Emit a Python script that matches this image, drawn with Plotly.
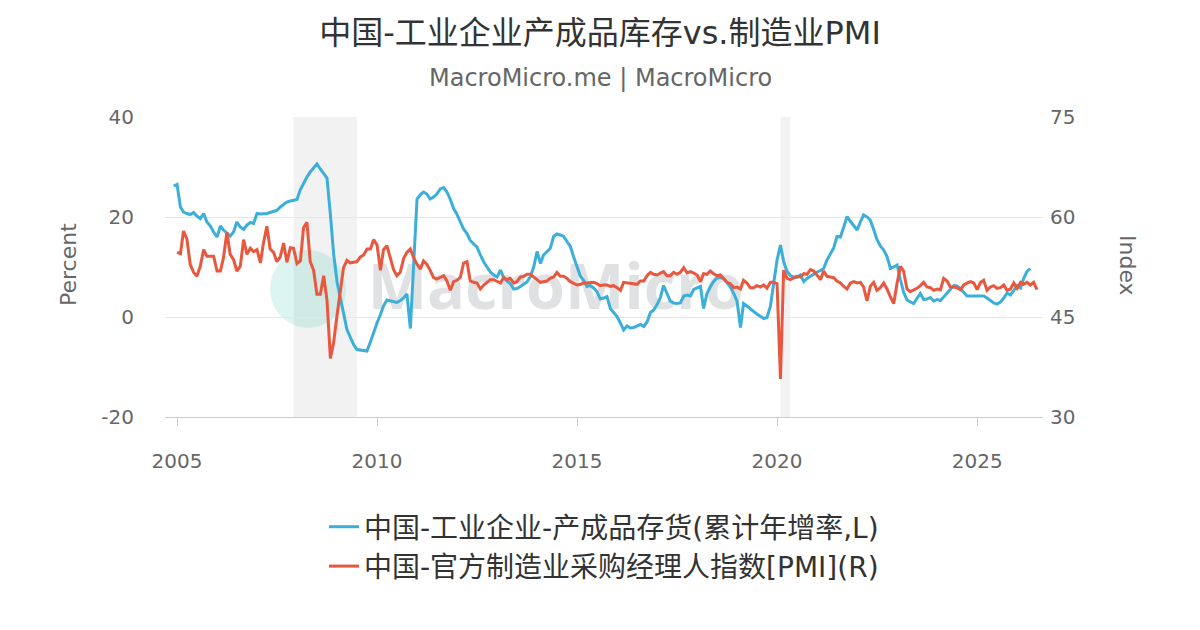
import pandas as pd
import plotly.graph_objects as go

# ---------------- data ----------------
inv_start = "2004-12-01"
inventory_yoy = [
    26.2,
    26.5, 22.0, 21.0, 20.7, 20.5, 20.9, 20.2, 19.7, 20.7, 19.0, 18.2, 17.0,   # 2005
    16.0, 18.2, 17.4, 16.8, 16.2, 17.0, 19.0, 18.0, 17.5, 18.4, 18.9, 18.7,   # 2006
    20.7, 20.6, 20.6, 20.7, 20.9, 21.1, 21.3, 22.0, 22.5, 23.0, 23.2, 23.3,   # 2007
    23.5, 25.5, 26.8, 28.0, 29.0, 29.8, 30.6, 29.6, 28.6, 27.8, 20.5, 12.5,   # 2008
    7.0, 3.5, 0.5, -2.5, -4.0, -5.5, -6.5, -6.6, -6.7, -6.8, -5.0, -3.0,      # 2009
    -1.2, 0.5, 2.2, 3.4, 3.2, 3.0, 2.9, 3.3, 3.8, 4.6, -2.3, None,            # 2010
    23.6, 24.5, 25.0, 24.6, 23.6, 24.0, 24.6, 25.6, 25.9, 25.0, 23.5, 21.7,   # 2011
    20.5, 19.0, 17.6, 16.7, 15.3, 14.6, 14.0, 12.4, 11.0, 10.0, 9.0, 8.4,     # 2012
    8.0, 9.4, 7.9, 7.2, 6.7, 5.6, 5.7, 6.1, 6.5, 7.0, 8.1, 10.0,              # 2013
    13.1, 10.7, 12.4, 13.1, 13.7, 16.1, 16.6, 16.4, 16.1, 15.1, 14.1, 12.0,   # 2014
    10.0, 8.1, 7.4, 6.1, 6.3, 5.8, 5.1, 3.6, 3.8, 4.1, 1.7, 0.9,              # 2015
    0.1, -1.2, -2.6, -1.8, -2.2, -2.1, -1.8, -1.5, -1.9, -1.0, 0.9, 1.4,      # 2016
    2.5, 4.0, 6.3, 4.6, 3.2, 2.8, 2.7, 2.8, 4.2, 4.4, 4.2, 5.5,               # 2017
    5.8, 6.1, 1.7, 4.7, 6.0, 7.1, 7.8, 7.9, 7.7, 6.8, 6.0, 4.7,               # 2018
    3.1, -2.1, 2.7, 2.2, 1.6, 1.1, 0.6, 0.1, -0.3, -0.1, 2.1, 6.7,            # 2019
    11.4, 14.4, 11.1, 9.1, 8.3, 8.0, 7.9, 8.4, 7.1, 7.7, 8.2, 8.6,            # 2020
    9.0, 9.3, 9.7, 11.4, 12.5, 13.8, 16.1, 16.0, 18.0, 20.1, 19.1, 18.2,      # 2021
    17.4, 19.1, 20.4, 20.0, 19.4, 17.5, 15.5, 14.2, 13.4, 12.1, 9.7, 10.0,    # 2022
    10.4, 7.4, 5.0, 3.4, 3.0, 2.7, 3.7, 4.7, 3.5, 3.6, 3.9, 3.2,              # 2023
    3.5, 3.3, 4.0, 4.8, 5.7, 6.3, 6.2, 5.7, 4.9, 4.2, 4.2, 4.2,               # 2024
    4.3, 4.3, 4.2, 3.8, 3.3, 2.8, 2.6, 3.0, 3.8, 4.8, 4.4, 5.3,               # 2025
    6.3, 5.8, 7.7, 9.1, 9.7,                                                  # 2026
]

pmi_start = "2005-01-01"
pmi = [
    54.7, 54.5, 57.9, 56.7, 52.9, 51.7, 51.1, 52.6, 55.1, 54.1, 54.1, 54.1,   # 2005
    51.9, 51.9, 53.9, 57.7, 54.4, 53.6, 51.9, 52.6, 56.6, 54.4, 55.3, 54.8,   # 2006
    55.1, 53.1, 56.1, 58.6, 55.2, 54.7, 53.3, 54.0, 56.1, 53.2, 55.4, 55.3,   # 2007
    53.0, 53.4, 58.4, 59.2, 53.3, 52.0, 48.4, 48.4, 51.2, 47.5, 38.8, 41.2,   # 2008
    45.3, 49.0, 52.4, 53.5, 53.1, 53.2, 53.3, 54.0, 54.3, 55.2, 55.2, 56.6,   # 2009
    55.8, 52.0, 55.1, 55.7, 53.9, 52.1, 51.2, 51.7, 53.8, 54.7, 55.2, 53.9,   # 2010
    52.9, 52.2, 53.4, 52.9, 52.0, 50.9, 50.7, 50.9, 51.2, 50.4, 49.0, 50.3,   # 2011
    50.5, 51.0, 53.1, 53.3, 50.4, 50.2, 50.1, 49.2, 49.8, 50.2, 50.6, 50.6,   # 2012
    50.4, 50.1, 50.9, 50.6, 50.8, 50.1, 50.3, 51.0, 51.1, 51.4, 51.4, 51.0,   # 2013
    50.5, 50.2, 50.3, 50.4, 50.8, 51.0, 51.7, 51.1, 51.1, 50.8, 50.3, 50.1,   # 2014
    49.8, 49.9, 50.1, 50.1, 50.2, 50.2, 50.0, 49.7, 49.8, 49.8, 49.6, 49.7,   # 2015
    49.4, 49.0, 50.2, 50.1, 50.1, 50.0, 49.9, 50.4, 50.4, 51.2, 51.7, 51.4,   # 2016
    51.3, 51.6, 51.8, 51.2, 51.2, 51.7, 51.4, 51.7, 52.4, 51.6, 51.8, 51.6,   # 2017
    51.3, 50.3, 51.5, 51.4, 51.9, 51.5, 51.2, 51.3, 50.8, 50.2, 50.0, 49.4,   # 2018
    49.5, 49.2, 50.5, 50.1, 49.4, 49.4, 49.7, 49.5, 49.8, 49.3, 50.2, 50.2,   # 2019
    50.0, 35.7, 52.0, 50.8, 50.6, 50.9, 51.1, 51.0, 51.5, 51.4, 52.1, 51.9,   # 2020
    51.3, 50.6, 51.9, 51.1, 51.0, 50.9, 50.4, 50.1, 49.6, 49.2, 50.1, 50.3,   # 2021
    50.1, 50.2, 49.5, 47.4, 49.6, 50.2, 49.0, 49.4, 50.1, 49.2, 48.0, 47.0,   # 2022
    50.1, 52.6, 51.9, 49.2, 48.8, 49.0, 49.3, 49.7, 50.2, 49.5, 49.4, 49.0,   # 2023
    49.2, 49.1, 50.8, 50.4, 49.5, 49.5, 49.4, 49.1, 49.8, 50.1, 50.3, 50.1,   # 2024
    49.1, 50.2, 50.5, 49.0, 49.5, 49.7, 49.3, 49.4, 49.8, 49.0, 49.2, 50.1,   # 2025
    49.3, 50.2, 49.9, 50.2, 49.8, 50.2, 49.1,                                 # 2026
]

recessions = [("2007-12-01", "2009-06-30"), ("2020-02-01", "2020-04-30")]

left_ticks = [-20, 0, 20, 40]
left_tick_text = ["-20", "0", "20", "40"]
right_ticks = [30, 45, 60, 75]

name_inv = "中国-工业企业-产成品存货(累计年增率,L)"
name_pmi = "中国-官方制造业采购经理人指数[PMI](R)"
title_text = "中国-工业企业产成品库存vs.制造业PMI"
subtitle_text = "MacroMicro.me | MacroMicro"

inv_dates = pd.date_range(inv_start, periods=len(inventory_yoy), freq="MS")
pmi_dates = pd.date_range(pmi_start, periods=len(pmi), freq="MS")

FONT = "DejaVu Sans, Noto Sans CJK SC, sans-serif"
BLUE = "#3BAFDA"
RED = "#E9573F"

fig = go.Figure()
fig.add_trace(go.Scatter(x=inv_dates, y=inventory_yoy, name=name_inv, mode="lines",
                         line=dict(color=BLUE, width=3), connectgaps=True, yaxis="y"))
fig.add_trace(go.Scatter(x=pmi_dates, y=pmi, name=name_pmi, mode="lines",
                         line=dict(color=RED, width=3), yaxis="y2"))

shapes = []
for a, b in recessions:
    shapes.append(dict(type="rect", xref="x", yref="paper", x0=a, x1=b, y0=0, y1=1,
                       fillcolor="#f2f2f2", line=dict(width=0), layer="below"))
# watermark
shapes.append(dict(type="circle", xref="paper", yref="paper", x0=0.1196, x1=0.2062,
                   y0=0.2967, y1=0.5567, fillcolor="rgba(80,205,180,0.20)",
                   line=dict(width=0), layer="below"))
shapes.append(dict(type="rect", xref="paper", yref="paper", x0=0.225, x1=0.665,
                   y0=0.30, y1=0.56, line=dict(width=0), fillcolor="rgba(0,0,0,0)",
                   layer="below",
                   label=dict(text="<b>MacroMicro</b>", font=dict(size=63, color="#e0e1e3",
                              family="Open Sans, DejaVu Sans"), textposition="middle center")))

# the page adds an 8px body margin, so the figure is laid out 8px up/left
fig.update_layout(
    width=1200, height=630,
    margin=dict(l=157, r=165, t=109, b=221, autoexpand=False),
    paper_bgcolor="white", plot_bgcolor="white",
    font=dict(family=FONT, color="#666"),
    title=dict(text=title_text, x=592 / 1200, xref="container", xanchor="center",
               y=1 - 25 / 630, yref="container", yanchor="middle",
               font=dict(size=32, color="#333", family=FONT)),
    showlegend=True,
    legend=dict(orientation="v", xref="paper", x=(604 - 165) / 878, xanchor="center",
                yref="paper", y=(417 - 502) / 300, yanchor="top",
                font=dict(size=28, color="#333", family=FONT),
                tracegroupgap=6, traceorder="normal", bgcolor="rgba(0,0,0,0)"),
    xaxis=dict(type="date", range=["2004-09-13", "2026-08-25"],
               tick0="2005-01-01", dtick="M60", tickformat="%Y", tickangle=0,
               showgrid=False, showline=True, linecolor="#cccccc", linewidth=1,
               ticks="outside", ticklen=8, tickcolor="#cccccc",
               ticklabelstandoff=18,
               tickfont=dict(size=20, color="#666", family=FONT)),
    yaxis=dict(range=[-20, 40], tickvals=left_ticks, ticktext=left_tick_text,
               showgrid=True, gridcolor="#e6e6e6",
               zeroline=False, showline=False, ticks="", ticklabelstandoff=30,
               tickfont=dict(size=20, color="#666", family=FONT)),
    yaxis2=dict(range=[30, 75], tickvals=right_ticks, overlaying="y", side="right",
                showgrid=False, zeroline=False, showline=False, ticks="",
                ticklabelstandoff=6,
                tickfont=dict(size=20, color="#666", family=FONT)),
    shapes=shapes,
    annotations=[
        dict(text=subtitle_text, xref="paper", yref="paper", x=(600 - 165) / 878, y=(417 - 78) / 300,
             showarrow=False, xanchor="center", yanchor="middle",
             font=dict(size=24, color="#666", family=FONT)),
        dict(text="Percent", xref="paper", yref="paper", x=(68 - 165) / 878, y=(417 - 265) / 300,
             showarrow=False, textangle=-90, xanchor="center", yanchor="middle",
             font=dict(size=22, color="#666", family=FONT)),
        dict(text="Index", xref="paper", yref="paper", x=(1128 - 165) / 878, y=(417 - 265) / 300,
             showarrow=False, textangle=90, xanchor="center", yanchor="middle",
             font=dict(size=22, color="#666", family=FONT)),
    ],
)

fig.write_html("out.html")
